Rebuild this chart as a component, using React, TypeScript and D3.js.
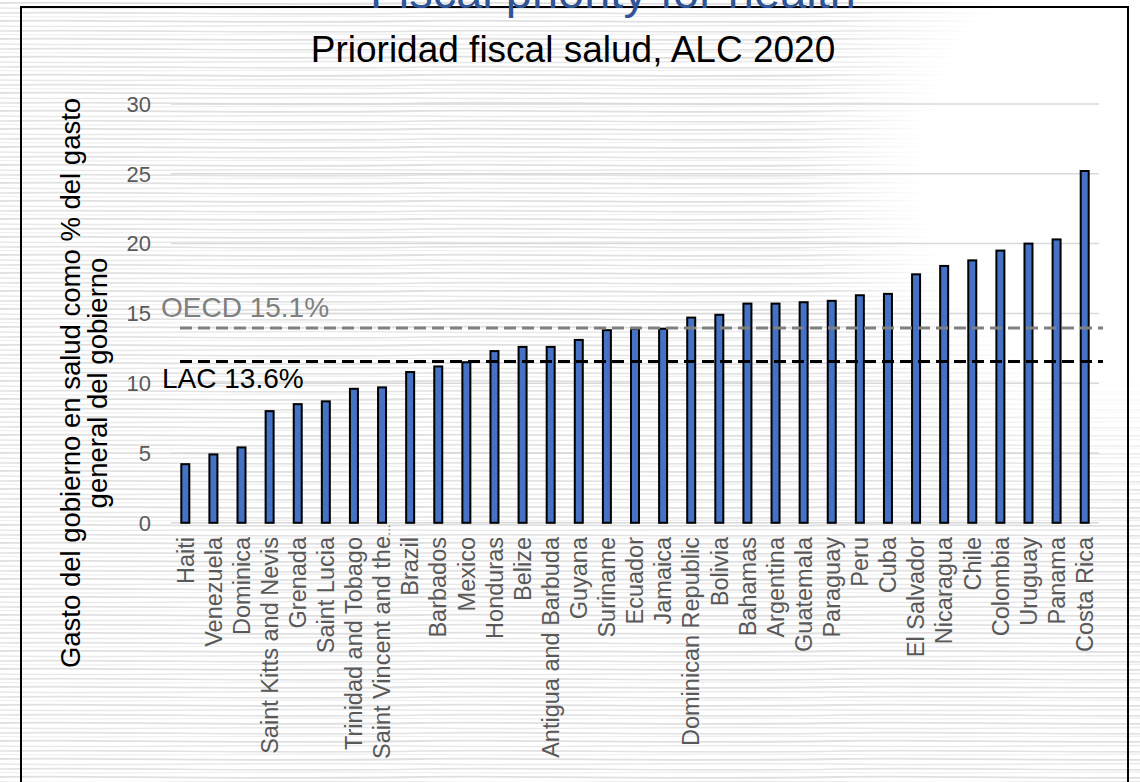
import React from "react";
import * as d3 from "d3";

const countries = [
  "Haiti", "Venezuela", "Dominica", "Saint Kitts and Nevis", "Grenada", "Saint Lucia",
  "Trinidad and Tobago", "Saint Vincent and the…", "Brazil", "Barbados", "Mexico",
  "Honduras", "Belize", "Antigua and Barbuda", "Guyana", "Suriname", "Ecuador",
  "Jamaica", "Dominican Republic", "Bolivia", "Bahamas", "Argentina", "Guatemala",
  "Paraguay", "Peru", "Cuba", "El Salvador", "Nicaragua", "Chile", "Colombia",
  "Uruguay", "Panama", "Costa Rica",
];
const values = [
  4.2, 4.9, 5.4, 8.0, 8.5, 8.7, 9.6, 9.7, 10.8, 11.2, 11.5, 12.3, 12.6, 12.6, 13.1,
  13.8, 13.9, 13.9, 14.7, 14.9, 15.7, 15.7, 15.8, 15.9, 16.3, 16.4, 17.8, 18.4, 18.8,
  19.5, 20.0, 20.3, 25.2,
];
const yTicks = [0, 5, 10, 15, 20, 25, 30];
const refLines = [
  { label: "OECD 15.1%", value: 13.95, color: "#808080" },
  { label: "LAC 13.6%", value: 11.55, color: "#000000" },
];
const pageTitle = "Fiscal priority for health";
const chartTitle = "Prioridad fiscal salud, ALC 2020";
const yTitle = ["Gasto del gobierno en salud como % del gasto", "general del gobierno"];

const FONT = "'Liberation Sans', Arial, sans-serif";

export default function App() {
  const W = 1140, H = 782;
  const x = d3.scaleBand<string>().domain(countries).range([171.25, 1098.75]).padding(0);
  const y = d3.scaleLinear().domain([0, 30]).range([522.8, 104]);
  const bw = 8;

  return (
    <svg width={W} height={H} style={{ position: "absolute", left: 0, top: 0, display: "block", background: "#ffffff" }} fontFamily={FONT}>
      <defs>
        <pattern id="tex" width="420" height="18" patternUnits="userSpaceOnUse">
          <path d="M0 3 C90 1 200 6 420 3" stroke="#e0e0e0" strokeWidth="1.8" fill="none" />
          <path d="M0 8 C130 10 260 6 420 8" stroke="#e9e9e9" strokeWidth="1.5" fill="none" />
          <path d="M0 13 C100 11 300 16 420 13" stroke="#e3e3e3" strokeWidth="1.6" fill="none" />
          <path d="M0 16.5 C150 18 280 15 420 16.5" stroke="#eeeeee" strokeWidth="1.2" fill="none" />
        </pattern>
        <radialGradient id="fadeG" cx="1130" cy="170" r="340" gradientUnits="userSpaceOnUse">
          <stop offset="0" stopColor="#000" />
          <stop offset="0.6" stopColor="#000" />
          <stop offset="1" stopColor="#fff" />
        </radialGradient>
        <mask id="fadeM">
          <rect x={0} y={0} width={W} height={H} fill="url(#fadeG)" />
        </mask>
      </defs>

      <rect x={0} y={0} width={W} height={H} fill="url(#tex)" mask="url(#fadeM)" />

      {/* chart box */}
      <rect x={21} y={7} width={1107} height={H + 20} fill="none" stroke="#000" strokeWidth={2} />

      {/* gridlines */}
      {yTicks.map((t) => (
        <line key={"g" + t} x1={171} x2={1099} y1={y(t)} y2={y(t)} stroke="#d9d9d9" strokeWidth={1.5} />
      ))}
      {yTicks.map((t) => (
        <text key={"t" + t} x={151} y={y(t)} dy="0.35em" textAnchor="end" fontSize={22} fill="#595959">
          {t}
        </text>
      ))}

      {/* bars */}
      {countries.map((c, i) => {
        const cx = (x(c) as number) + x.bandwidth() / 2;
        return (
          <rect key={c} x={cx - bw / 2} y={y(values[i])} width={bw} height={y(0) - y(values[i])}
            fill="#4472c4" stroke="#000" strokeWidth={2} />
        );
      })}

      {/* reference lines */}
      {refLines.map((r) => (
        <line key={r.label} x1={180} x2={1103} y1={y(r.value)} y2={y(r.value)} stroke={r.color}
          strokeWidth={3} strokeDasharray="12 6" />
      ))}
      <text x={161} y={316.5} fontSize={28} fill="#7f7f7f">{refLines[0].label}</text>
      <text x={162} y={387.5} fontSize={28} fill="#000">{refLines[1].label}</text>

      {/* category labels */}
      {countries.map((c) => {
        const cx = (x(c) as number) + x.bandwidth() / 2;
        const trunc = c.endsWith("…");
        const base = trunc ? c.slice(0, -1) : c;
        return (
          <text key={"l" + c} transform={`translate(${cx},${trunc ? 524 : 537}) rotate(-90)`} dy="0.35em"
            textAnchor="end" fontSize={23.5} fill="#595959">
            {base}
            {trunc ? <tspan fontSize={12}>…</tspan> : null}
          </text>
        );
      })}

      {/* y axis title */}
      {yTitle.map((t, i) => (
        <text key={t} transform={`translate(${70 + i * 27},383) rotate(-90)`} dy="0.35em" textAnchor="middle"
          fontSize={27.5} fill="#000">
          {t}
        </text>
      ))}

      <text x={573} y={62} textAnchor="middle" fontSize={37} fill="#000">{chartTitle}</text>
      <text x={613} y={8} textAnchor="middle" fontSize={47} fill="#2f5597">{pageTitle}</text>
    </svg>
  );
}
